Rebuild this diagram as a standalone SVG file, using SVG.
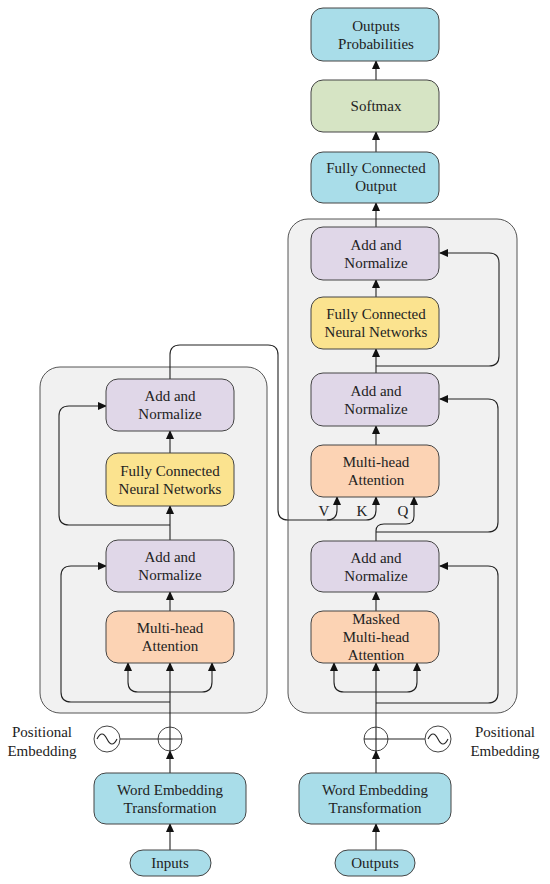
<svg xmlns="http://www.w3.org/2000/svg" width="550" height="884" viewBox="0 0 550 884">
<defs>
<marker id="ah" markerUnits="userSpaceOnUse" markerWidth="9" markerHeight="8" refX="8" refY="4" orient="auto">
<path d="M0,0 L9,4 L0,8 z" fill="#111"/>
</marker>
<style>
text{font-family:"Liberation Serif","Times New Roman",serif;font-size:15px;fill:#222;text-anchor:middle}
.box{stroke:#444;stroke-width:1}
.blue{fill:#a9dde9}
.green{fill:#d6e4c4}
.purple{fill:#e0d7e8}
.yellow{fill:#fbe38f}
.orange{fill:#fcd3b4}
.cont{fill:#f1f1f1;stroke:#555;stroke-width:1}
.ln{fill:none;stroke:#222;stroke-width:1.1}
.arr{fill:none;stroke:#222;stroke-width:1.1;marker-end:url(#ah)}
.circ{fill:none;stroke:#444;stroke-width:1}
</style>
</defs>
<rect width="550" height="884" fill="#ffffff"/>

<g id="containers">
<rect id="encoder-container" class="cont" x="40" y="367" width="227" height="346" rx="20"/>
<rect id="decoder-container" class="cont" x="288" y="219" width="229" height="494" rx="20"/>
</g>

<g id="connectors">
<!-- decoder top chain -->
<path class="arr" d="M376,80 V61"/>
<path class="arr" d="M376,152 V132"/>
<path class="arr" d="M376,227 V203"/>
<path class="arr" d="M376,297 V280"/>
<path class="arr" d="M376,373 V349"/>
<path class="arr" d="M376,366 H489 Q499,366 499,356 V263 Q499,253 489,253 H440"/>
<path class="arr" d="M376,445 V426"/>
<path class="arr" d="M376,532 H488 Q498,532 498,522 V409 Q498,399 488,399 H440"/>
<path class="arr" d="M376,541 V531 Q376,524 384,524 H406 Q414,524 414,516 V497"/>
<path class="arr" d="M170,379 V355 Q170,345 180,345 H268 Q278,345 278,355 V510 Q278,520 288,520 H327 Q337,520 337,510 V497"/>
<path class="arr" d="M327,520 H366 Q376,520 376,510 V497"/>
<path class="arr" d="M376,611 V592"/>
<path class="arr" d="M376,703 H488 Q498,703 498,693 V576 Q498,566 488,566 H440"/>
<path class="arr" d="M376,727 V663"/>
<path class="arr" d="M376,692 H344 Q334,692 334,682 V663"/>
<path class="arr" d="M376,692 H407 Q417,692 417,682 V663"/>
<path class="arr" d="M376,773 V751"/>
<path class="ln" d="M388,739 H425"/>
<path class="arr" d="M376,850 V824"/>
<!-- encoder -->
<path class="arr" d="M170,453 V431"/>
<path class="arr" d="M170,540 V506"/>
<path class="arr" d="M170,525 H69 Q59,525 59,515 V416 Q59,406 69,406 H106"/>
<path class="arr" d="M170,611 V592"/>
<path class="arr" d="M170,702 H71 Q61,702 61,692 V576 Q61,566 71,566 H106"/>
<path class="arr" d="M170,727 V663"/>
<path class="arr" d="M170,692 H138 Q128,692 128,682 V663"/>
<path class="arr" d="M170,692 H202 Q212,692 212,682 V663"/>
<path class="arr" d="M170,773 V751"/>
<path class="ln" d="M120,739 H158"/>
<path class="arr" d="M170,850 V824"/>
</g>

<g id="output-probabilities">
<rect class="box blue" x="311" y="8" width="128" height="53" rx="12"/>
<text x="376" y="31">Outputs</text>
<text x="376" y="49">Probabilities</text>
</g>
<g id="softmax">
<rect class="box green" x="311" y="80" width="128" height="52" rx="12"/>
<text x="376" y="111">Softmax</text>
</g>
<g id="fc-output">
<rect class="box blue" x="311" y="152" width="128" height="51" rx="12"/>
<text x="376" y="173">Fully Connected</text>
<text x="376" y="191">Output</text>
</g>

<g id="dec-addnorm-3">
<rect class="box purple" x="311" y="227" width="128" height="53" rx="12"/>
<text x="376" y="250">Add and</text>
<text x="376" y="268">Normalize</text>
</g>
<g id="dec-ffn">
<rect class="box yellow" x="311" y="297" width="128" height="52" rx="12"/>
<text x="376" y="319">Fully Connected</text>
<text x="376" y="337">Neural Networks</text>
</g>
<g id="dec-addnorm-2">
<rect class="box purple" x="311" y="373" width="128" height="53" rx="12"/>
<text x="376" y="396">Add and</text>
<text x="376" y="414">Normalize</text>
</g>
<g id="dec-mha">
<rect class="box orange" x="311" y="445" width="128" height="52" rx="12"/>
<text x="376" y="467">Multi-head</text>
<text x="376" y="485">Attention</text>
</g>
<g id="vkq-labels">
<text x="324" y="516">V</text>
<text x="362" y="516">K</text>
<text x="403" y="516">Q</text>
</g>
<g id="dec-addnorm-1">
<rect class="box purple" x="311" y="541" width="128" height="51" rx="12"/>
<text x="376" y="563">Add and</text>
<text x="376" y="581">Normalize</text>
</g>
<g id="dec-masked-mha">
<rect class="box orange" x="311" y="611" width="128" height="52" rx="12"/>
<text x="376" y="624">Masked</text>
<text x="376" y="642">Multi-head</text>
<text x="376" y="660">Attention</text>
</g>

<g id="dec-add">
<circle class="circ" cx="376" cy="739" r="12"/>
<path class="ln" d="M364,739 H388 M376,727 V751"/>
</g>
<g id="dec-pos">
<circle class="circ" cx="438" cy="739" r="13"/>
<path class="ln" d="M428,739 Q433,729 438,739 T448,739"/>
<text x="505" y="737">Positional</text>
<text x="505" y="756">Embedding</text>
</g>
<g id="dec-word-emb">
<rect class="box blue" x="299" y="773" width="152" height="51" rx="12"/>
<text x="375" y="795">Word Embedding</text>
<text x="375" y="813">Transformation</text>
</g>
<g id="outputs">
<rect class="box blue" x="335" y="850" width="80" height="26" rx="13"/>
<text x="375" y="868">Outputs</text>
</g>

<g id="enc-addnorm-2">
<rect class="box purple" x="106" y="379" width="128" height="52" rx="12"/>
<text x="170" y="401">Add and</text>
<text x="170" y="419">Normalize</text>
</g>
<g id="enc-ffn">
<rect class="box yellow" x="106" y="453" width="128" height="53" rx="12"/>
<text x="170" y="476">Fully Connected</text>
<text x="170" y="494">Neural Networks</text>
</g>
<g id="enc-addnorm-1">
<rect class="box purple" x="106" y="540" width="128" height="52" rx="12"/>
<text x="170" y="562">Add and</text>
<text x="170" y="580">Normalize</text>
</g>
<g id="enc-mha">
<rect class="box orange" x="106" y="611" width="128" height="52" rx="12"/>
<text x="170" y="633">Multi-head</text>
<text x="170" y="651">Attention</text>
</g>
<g id="enc-add">
<circle class="circ" cx="170" cy="739" r="12"/>
<path class="ln" d="M158,739 H182 M170,727 V751"/>
</g>
<g id="enc-pos">
<circle class="circ" cx="107" cy="739" r="13"/>
<path class="ln" d="M97,739 Q102,729 107,739 T117,739"/>
<text x="42" y="737">Positional</text>
<text x="42" y="756">Embedding</text>
</g>
<g id="enc-word-emb">
<rect class="box blue" x="94" y="773" width="152" height="51" rx="12"/>
<text x="170" y="795">Word Embedding</text>
<text x="170" y="813">Transformation</text>
</g>
<g id="inputs">
<rect class="box blue" x="130" y="850" width="81" height="26" rx="13"/>
<text x="170" y="868">Inputs</text>
</g>
</svg>
